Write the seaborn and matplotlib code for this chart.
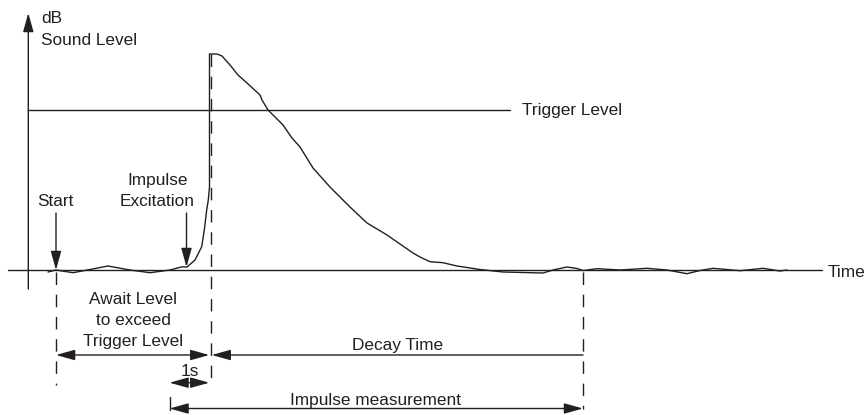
import matplotlib
matplotlib.use("Agg")
import matplotlib.pyplot as plt
from matplotlib.patches import FancyArrowPatch, ArrowStyle
import pandas as pd
import seaborn as sns

# Sound level trace of an impulse measurement (time units, level above noise floor)
time_pts = [48, 56, 73, 90, 108, 130, 150, 170, 182, 187, 195, 201.7, 204.3, 206.7,
            208.3, 209.5, 209.5, 217, 222, 230, 238, 247, 260, 262, 268, 283, 292,
            300, 313, 330, 350, 367, 387, 413, 420, 430, 443, 457, 480, 503, 543,
            553, 567, 577, 583, 597, 620, 647, 667, 687, 700, 713, 740, 763, 780, 787]
level_pts = [-2, 0, -2.7, 0.5, 4, 0, -2.7, 0, 3.2, 3, 10, 23.3, 40, 60,
             70, 83, 216, 216, 214, 205, 195, 187, 175, 170, 160, 145, 132,
             123, 102, 83, 63, 47, 35, 17, 13, 8.3, 7.3, 4, 0.5, -2, -3,
             0, 3, 1.5, -0.5, 1.3, 0, 1.7, 0, -3.7, -0.5, 1.7, -0.7, 1.7, -1, 0]

trigger_level = 160
t_start = 56
t_excite = 186.5
t_trigger = 210.5
t_end = 583
t_pre = 169.5

INK = "#231f20"

sns.set_theme(style="white")
plt.rcParams["font.family"] = ["Liberation Sans", "DejaVu Sans"]
FS = 12.4

fig = plt.figure(figsize=(8.68, 4.15), dpi=100)
ax = fig.add_axes([0, 0, 1, 1])
ax.set_xlim(0, 868)
ax.set_ylim(-145, 270)
ax.axis("off")

df = pd.DataFrame({"time": time_pts, "level": level_pts})
sns.lineplot(data=df, x="time", y="level", sort=False, estimator=None,
             color=INK, lw=1.0, ax=ax)

# Axes of the diagram
ax.plot([8, 822], [0, 0], color=INK, lw=1.0)
ax.plot([28.3, 510], [trigger_level, trigger_level], color=INK, lw=1.0)


def arrow(p0, p1, style="-|>"):
    st = ArrowStyle(style, head_length=11.5, head_width=3.2)
    a = FancyArrowPatch(p0, p1, arrowstyle=st, mutation_scale=1,
                        shrinkA=0, shrinkB=0, color=INK, lw=1.0)
    ax.add_patch(a)


arrow((28.3, -19), (28.3, 257))

# Dashed markers
dash = (0, (9, 7))
ax.plot([t_start, t_start], [-2, -115], color=INK, lw=1.0, ls=dash)
ax.plot([t_trigger, t_trigger], [216, -113], color=INK, lw=1.0, ls=dash)
ax.plot([t_end, t_end], [-2, -139], color=INK, lw=1.0, ls=dash)

# Event arrows
arrow((t_start, 57), (t_start, 0))
arrow((t_excite, 57), (t_excite, 3))

# Span arrows
arrow((t_start, -85), (209.3, -85), "<|-|>")
arrow((t_end, -85), (211.7, -85))
arrow((t_pre, -112.7), (209.3, -112.7), "<|-|>")
arrow((t_end, -138.5), (t_pre, -138.5), "<|-|>")
ax.plot([t_pre, t_pre], [-127, -140], color=INK, lw=1.0)

# Labels
txt = dict(color=INK, fontsize=FS, va="baseline")
ax.text(41, 247, "dB", ha="left", **txt)
ax.text(41, 225, "Sound Level", ha="left", **txt)
ax.text(522, 155, "Trigger Level", ha="left", **txt)
ax.text(828, -7, "Time", ha="left", **txt)
ax.text(55.8, 64, "Start", ha="center", **txt)
ax.text(157.5, 85.5, "Impulse", ha="center", **txt)
ax.text(157.5, 64, "Excitation", ha="center", **txt)
ax.text(133, -34, "Await Level", ha="center", **txt)
ax.text(133, -55, "to exceed", ha="center", **txt)
ax.text(133, -76, "Trigger Level", ha="center", **txt)
ax.text(397.5, -80, "Decay Time", ha="center", **txt)
ax.text(190, -106, "1s", ha="center", **txt)
ax.text(375, -135, "Impulse measurement", ha="center", **txt)

fig.savefig("out.png", dpi=100, facecolor="white")
